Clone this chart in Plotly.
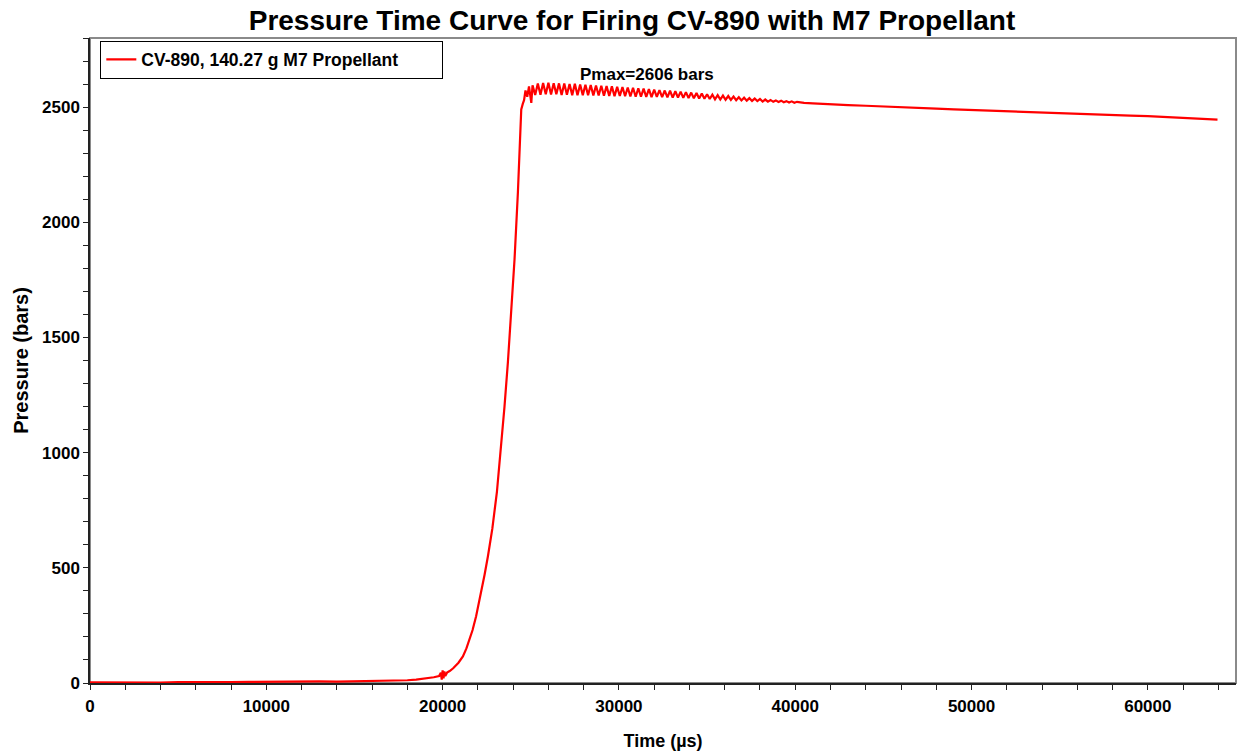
import plotly.graph_objects as go

# ---- data ----
time_us = [
    0, 1000, 2000, 3000, 4000, 5000, 6000, 7000, 8000, 9000, 10000, 11000, 12000,
    13000, 14000, 15000, 16000, 17000, 18000, 18500, 19000, 19500, 19800, 19900,
    19950, 20000, 20050, 20100, 20150, 20250, 20400, 20600, 20900, 21150, 21350,
    21530, 21700, 21900, 22100, 22380, 22570, 22820, 23080, 23290, 23510, 23700,
    23930, 24080, 24270, 24460, 24550, 24620, 24700, 24800, 24900, 25030, 25100,
    25250, 25400, 25550, 25700, 25850, 26000, 26150, 26300, 26450, 26600, 26750,
    26900, 27050, 27200, 27350, 27500, 27650, 27800, 27950, 28100, 28250, 28400,
    28550, 28700, 28850, 29000, 29150, 29300, 29450, 29600, 29750, 29900, 30050,
    30200, 30350, 30500, 30650, 30800, 30950, 31100, 31250, 31400, 31550, 31700,
    31850, 32000, 32150, 32300, 32450, 32600, 32750, 32900, 33050, 33200, 33350,
    33500, 33650, 33800, 33950, 34100, 34250, 34400, 34550, 34700, 34850, 35000,
    35150, 35300, 35450, 35600, 35750, 35900, 36050, 36200, 36350, 36500, 36650,
    36800, 36950, 37100, 37250, 37400, 37550, 37700, 37850, 38000, 38150, 38300,
    38450, 38600, 38750, 38900, 39050, 39200, 39350, 39500, 39650, 39800, 39950,
    40100, 40500, 41000, 41500, 42000, 43000, 44000, 45000, 46000, 47000, 48000,
    49000, 50000, 51000, 52000, 53000, 54000, 55000, 56000, 57000, 58000, 59000,
    60000, 61000, 62000, 63000, 63950,
]
pressure_bar = [
    3, 2, 4, 3, 2, 4, 3, 5, 4, 5, 6, 7, 6,
    7, 6, 7, 7, 9, 12, 15, 19, 25, 30, 45,
    15, 55, 20, 50, 30, 45, 52, 64, 88, 115, 150,
    188, 230, 290, 360, 470, 550, 670, 830, 1000, 1200, 1390,
    1640, 1840, 2130, 2490, 2515, 2530, 2572, 2545, 2590, 2518, 2595,
    2553, 2603, 2554, 2605, 2556, 2606, 2555, 2604, 2556, 2603, 2553,
    2602, 2554, 2600, 2552, 2601, 2551, 2598, 2552, 2597, 2552, 2596,
    2551, 2594, 2550, 2593, 2549, 2591, 2548, 2590, 2547, 2588, 2548,
    2587, 2547, 2585, 2546, 2584, 2545, 2582, 2545, 2580, 2544, 2578,
    2543, 2576, 2544, 2574, 2543, 2572, 2542, 2571, 2541, 2569, 2541,
    2567, 2540, 2565, 2539, 2563, 2538, 2561, 2537, 2559, 2536, 2556,
    2535, 2554, 2534, 2552, 2533, 2550, 2532, 2548, 2531, 2546, 2530,
    2543, 2529, 2541, 2528, 2539, 2527, 2537, 2526, 2535, 2524, 2533,
    2524, 2531, 2523, 2529, 2522, 2528, 2521, 2526, 2520, 2525, 2519,
    2523, 2518, 2516, 2515, 2513, 2509, 2506, 2502, 2499, 2495, 2493,
    2490, 2487, 2484, 2481, 2478, 2476, 2474, 2471, 2469, 2466, 2463,
    2461, 2458, 2454, 2450, 2446,
]
series_name = "CV-890, 140.27 g M7 Propellant"
pmax_label = "Pmax=2606 bars"
x_ticks = [0, 10000, 20000, 30000, 40000, 50000, 60000]
y_ticks = [0, 500, 1000, 1500, 2000, 2500]

FONT = "Arial, 'Liberation Sans', sans-serif"
W, H = 1243, 753

fig = go.Figure()
fig.add_trace(go.Scatter(
    x=time_us, y=pressure_bar, mode="lines",
    name=f"<b>{series_name}</b>" + "&nbsp;" * 8,
    line=dict(color="#ff0000", width=2.2),
))

fig.update_layout(
    width=W, height=H,
    margin=dict(l=90, r=7, t=38, b=70),
    paper_bgcolor="white", plot_bgcolor="white",
    font=dict(family=FONT, color="black"),
    title=dict(
        text="<b>Pressure Time Curve for Firing CV-890 with M7 Propellant</b>",
        x=632 / W, xref="container", xanchor="center",
        y=1 - 20 / H, yref="container", yanchor="middle",
        font=dict(size=28, family=FONT, color="black"),
    ),
    showlegend=True,
    legend=dict(
        x=0.009, y=0.996, xanchor="left", yanchor="top",
        bordercolor="black", borderwidth=1, bgcolor="white",
        font=dict(size=17.5, family=FONT, color="black"),
    ),
    shapes=[dict(
        type="rect", xref="paper", yref="paper", x0=0, x1=1, y0=0, y1=1,
        line=dict(color="#8a8a8a", width=2), layer="below",
    )],
    annotations=[dict(
        x=31570, y=2641, xref="x", yref="y", text=f"<b>{pmax_label}</b>",
        showarrow=False, xanchor="center", yanchor="middle",
        font=dict(size=17, family=FONT, color="black"),
    )],
)

fig.update_xaxes(
    range=[0, 65000], tickvals=x_ticks, ticktext=[f"<b>{v}</b>" for v in x_ticks],
    ticks="outside", ticklen=5, tickwidth=1, tickcolor="#222",
    minor=dict(dtick=2000, ticks="outside", ticklen=5, tickcolor="#222"),
    showline=True, linecolor="#222", linewidth=1.5,
    showgrid=False, zeroline=False, automargin=False,
    tickfont=dict(size=17, family=FONT, color="black"),
    ticklabelstandoff=2,
    title=dict(text="<b>Time (µs)</b>", font=dict(size=18, family=FONT, color="black"), standoff=19),
)
fig.update_yaxes(
    range=[0, 2800], tickvals=y_ticks, ticktext=[f"<b>{v}</b>" for v in y_ticks],
    ticks="outside", ticklen=5, tickwidth=1, tickcolor="#222",
    minor=dict(dtick=100, ticks="outside", ticklen=5, tickcolor="#222"),
    showline=True, linecolor="#222", linewidth=1.5,
    showgrid=False, zeroline=False, automargin=False,
    tickfont=dict(size=17, family=FONT, color="black"),
    title=dict(text="<b>Pressure (bars)</b>", font=dict(size=20, family=FONT, color="black"), standoff=8),
)

fig.write_html(
    "out.html",
    config={"displayModeBar": False},
    post_script="document.body.style.margin='0px';",
)
